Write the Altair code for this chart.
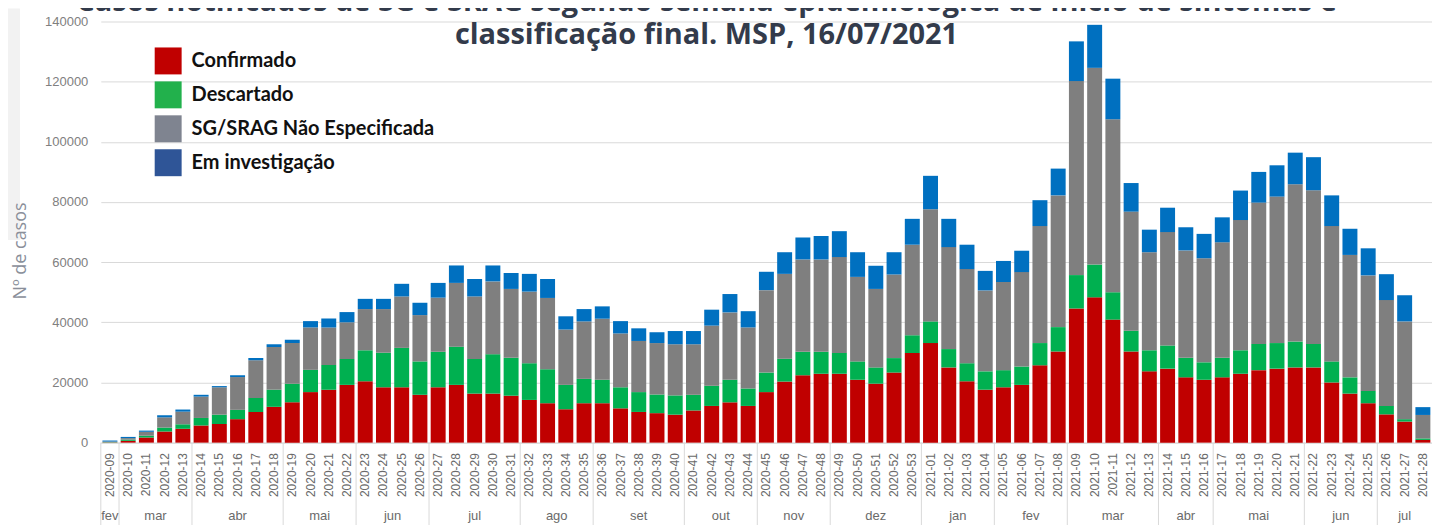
import altair as alt
import pandas as pd

weeks = [f"2020-{w:02d}" for w in range(9, 54)] + [f"2021-{w:02d}" for w in range(1, 29)]

# cumulative tops of each stacked segment
red_top = [100, 600, 1700, 3700, 4600, 5700, 6200, 7800, 10200, 11900, 13400, 16800, 17600, 19200,
           20400, 18400, 18400, 15900, 18400, 19200, 16300, 16300, 15600, 14200, 13100, 11100, 13100,
           13100, 11400, 10200, 9800, 9300, 10700, 12200, 13400, 12200, 16800, 20300, 22400, 22900,
           22900, 20900, 19600, 23300, 29800, 33100, 25000, 20400, 17600, 18400, 19200, 25700, 30300,
           44600, 48300, 40900, 30300, 23700, 24600, 21700, 20900, 21700, 22900, 24100, 24600, 25000,
           25000, 20000, 16300, 13100, 9400, 7000, 900]
green_top = [200, 1000, 2300, 5000, 6100, 8200, 9300, 10900, 14800, 17600, 19600, 24200, 25800, 27800,
             30700, 29900, 31500, 27000, 30200, 31900, 27800, 29400, 28200, 26400, 24400, 19200, 21200,
             20900, 18400, 16800, 16000, 15700, 15900, 18900, 20900, 18000, 23300, 27900, 30200, 30200,
             29800, 27000, 25000, 28100, 35700, 40300, 31100, 26400, 23700, 24100, 25300, 33100, 38400,
             55700, 59200, 50000, 37200, 30700, 32300, 28200, 26700, 28200, 30700, 32800, 33100, 33600,
             32800, 27000, 21700, 17200, 12200, 7800, 1400]
gray_top = [350, 1500, 3600, 8400, 10300, 15300, 18400, 21800, 27400, 31800, 33100, 38300, 38300, 40000,
            44400, 44400, 48600, 42400, 48200, 53100, 48600, 53600, 51100, 50200, 48100, 37600, 40300,
            41200, 36300, 33800, 33100, 32700, 32700, 38900, 43300, 38300, 50700, 56100, 60900, 60900,
            61700, 55100, 51100, 55900, 65800, 77600, 65000, 57700, 50600, 53400, 56700, 72000, 82200,
            120200, 124600, 107500, 76800, 63300, 70000, 63900, 61300, 66600, 74000, 79800, 81800, 85900,
            83900, 72000, 62400, 55600, 47400, 40300, 9200]
total_top = [700, 1900, 4000, 9100, 11000, 15900, 18800, 22400, 28100, 32700, 34200, 40400, 41300, 43400,
             47800, 47800, 52800, 46500, 53100, 58900, 54400, 58900, 56400, 56100, 54400, 42000, 44400,
             45300, 40400, 38000, 36700, 37100, 37100, 44200, 49400, 43700, 56800, 63300, 68200, 68700,
             70300, 63300, 58800, 63300, 74400, 88700, 74400, 65800, 57100, 60400, 63800, 80600, 91100,
             133400, 138900, 121000, 86300, 70800, 78100, 71600, 69400, 74900, 83800, 90000, 92200, 96400,
             94900, 82200, 71100, 64600, 56000, 49000, 11800]

categories = ["Confirmado", "Descartado", "SG/SRAG Não Especificada", "Em investigação"]
bar_colors = ["#c00000", "#00b050", "#7f7f7f", "#0070c0"]
legend_colors = ["#c00000", "#22b14c", "#7f8490", "#2f5597"]

month_names = ["fev", "mar", "abr", "mai", "jun", "jul", "ago", "set", "out", "nov", "dez",
               "jan", "fev", "mar", "abr", "mai", "jun", "jul"]
month_weeks = [1, 4, 5, 4, 4, 5, 4, 5, 4, 4, 5, 4, 4, 5, 3, 5, 4, 3]

title_line1 = "Casos notificados de SG e SRAG segundo semana epidemiológica de início de sintomas e"
title_line2 = "classificação final. MSP, 16/07/2021"
y_title = "Nº de casos"

# ---- tables ----
rows = []
for i, w in enumerate(weeks):
    b = [0, red_top[i], green_top[i], gray_top[i], total_top[i]]
    for k, c in enumerate(categories):
        rows.append({"idx": i, "week": w, "cat": c, "lo": b[k], "hi": b[k + 1]})
df = pd.DataFrame(rows)

mrows = []
start = 0
for name, n in zip(month_names, month_weeks):
    mrows.append({"name": name, "center": start + (n - 1) / 2, "sep": start - 0.5})
    start += n
mdf = pd.DataFrame(mrows)

W, H = 1334, 422
PAD = 0.18

xlin = alt.Scale(domain=[-0.5, len(weeks) - 0.5], nice=False, zero=False)
yscale = alt.Scale(domain=[0, 140000], nice=False)

bars = alt.Chart(df).mark_bar().encode(
    x=alt.X("week:O", sort=weeks,
            scale=alt.Scale(paddingInner=PAD, paddingOuter=PAD / 2),
            axis=alt.Axis(labelAngle=270, labelFontSize=12, labelColor="#6a6a6a", labelPadding=10,
                          ticks=False, grid=False, domainColor="#d9d9d9", title=None,
                          labelOverlap=False, labelFont="Liberation Sans")),
    y=alt.Y("lo:Q", scale=yscale,
            axis=alt.Axis(values=list(range(0, 140001, 20000)), format="d", labelFontSize=13,
                          labelColor="#808080", labelPadding=13, ticks=False, domain=False,
                          grid=True, gridColor="#d9d9d9", title=None, labelFont="Liberation Sans")),
    y2="hi:Q",
    color=alt.Color("cat:N", scale=alt.Scale(domain=categories, range=bar_colors), legend=None),
)

legend_layer = alt.Chart(pd.DataFrame({"cat": categories})).mark_square(size=0).encode(
    color=alt.Color("cat:N", scale=alt.Scale(domain=categories, range=legend_colors),
                    legend=alt.Legend(title=None, orient="none", legendX=54, legendY=26,
                                      symbolType="square", symbolSize=729, symbolOpacity=1,
                                      symbolStrokeWidth=0, labelFont="Lato", labelFontSize=20,
                                      labelFontWeight="bold", labelColor="#111111", labelOffset=10,
                                      rowPadding=7, padding=0, labelLimit=400))
)

seps = alt.Chart(mdf).mark_rule(color="#d9d9d9", strokeWidth=1).encode(
    x=alt.X("sep:Q", scale=xlin, axis=None), y=alt.value(H), y2=alt.value(H + 95))

month_text = alt.Chart(mdf).mark_text(fontSize=13, color="#6a6a6a", baseline="alphabetic",
                                      font="Liberation Sans").encode(
    x=alt.X("center:Q", scale=xlin, axis=None), y=alt.value(H + 78), text="name:N")

strip = alt.Chart(pd.DataFrame({"a": [0]})).mark_rect(color="#f2f2f2").encode(
    x=alt.value(-93), x2=alt.value(-81), y=alt.value(-13), y2=alt.value(219))

ytitle = alt.Chart(pd.DataFrame({"t": [y_title]})).mark_text(
    angle=270, fontSize=18, color="#8a8f9a", font="Open Sans", baseline="middle", align="center"
).encode(x=alt.value(-80), y=alt.value(230), text="t:N")

tstyle = dict(fontSize=29, font="Open Sans", fontWeight="bold", color="#333b4b",
              align="center", baseline="alphabetic")
title1 = alt.Chart(pd.DataFrame({"t": [title_line1]})).mark_text(**tstyle).encode(
    x=alt.value(607), y=alt.value(-11), text="t:N")
title2 = alt.Chart(pd.DataFrame({"t": [title_line2]})).mark_text(**tstyle).encode(
    x=alt.value(607), y=alt.value(23), text="t:N")

chart = alt.layer(strip, seps, bars, month_text, ytitle, legend_layer, title1, title2).resolve_scale(
    x="independent", color="independent"
).properties(
    width=W, height=H,
    autosize=alt.AutoSizeParams(type="none"),
    padding={"left": 93, "top": 13, "right": 0, "bottom": 82},
).configure_view(stroke=None)

chart.save("out.html", embed_options={"renderer": "svg", "actions": False})
